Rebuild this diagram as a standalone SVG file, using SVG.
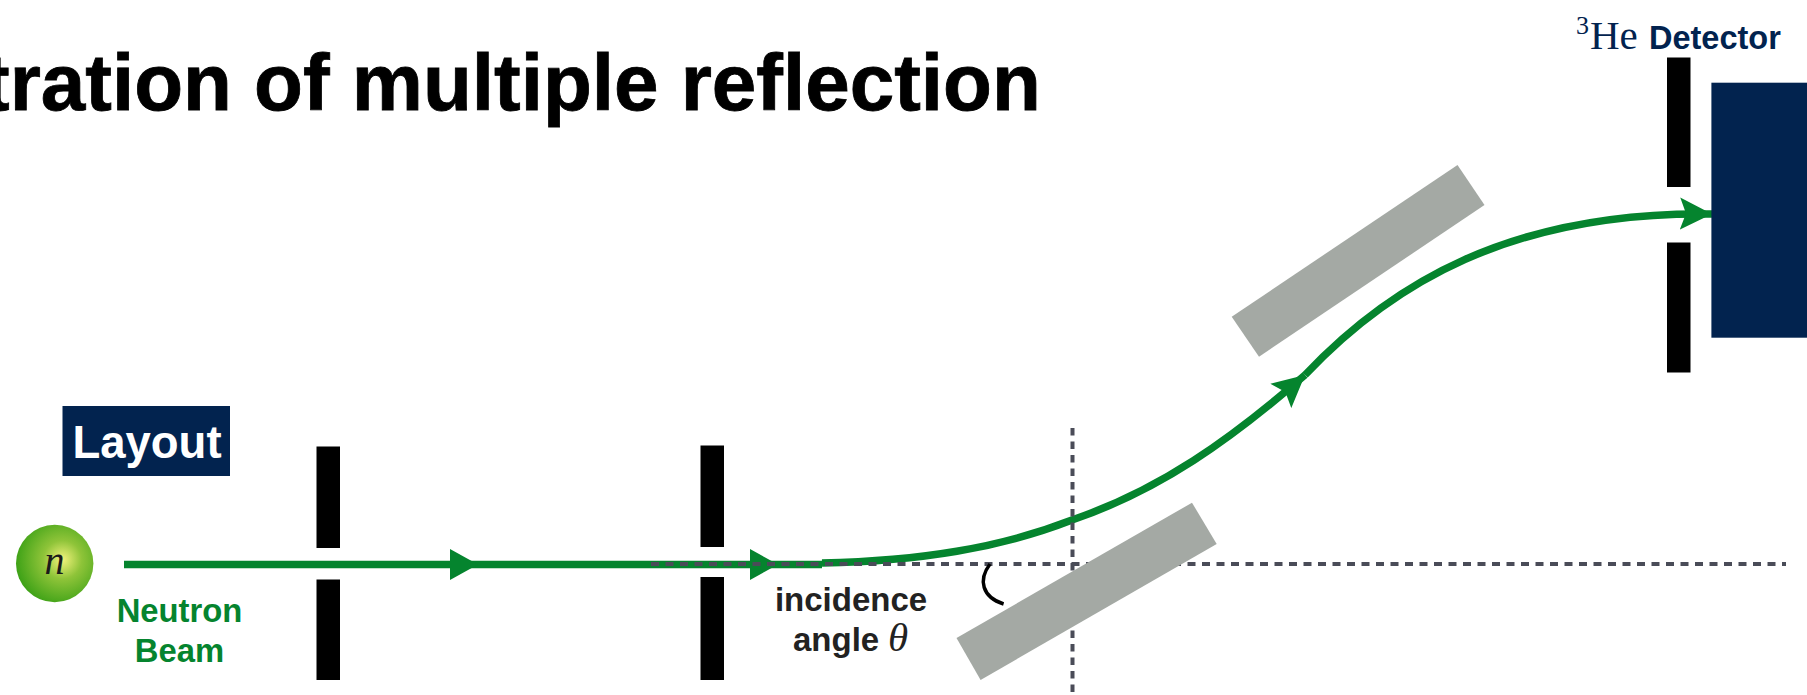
<svg xmlns="http://www.w3.org/2000/svg" width="1807" height="695" viewBox="0 0 1807 695">
<style>
.sans{font-family:"Liberation Sans",Arial,sans-serif;font-weight:700}
.serif{font-family:"Liberation Serif","Times New Roman",serif;font-weight:400}
.slit{fill:#000}
.mirror{fill:#a4a9a4}
.navy{fill:#02234f}
.beam{fill:none;stroke:#05842e;stroke-width:7.500}
.guide{fill:none;stroke:#4a4c58;stroke-width:4}
.green{fill:#05842e}
.dark{fill:#222}
</style>
<defs>
<radialGradient id="ball" cx="0.6" cy="0.45" r="0.62">
<stop offset="0" stop-color="#f2f27c"/>
<stop offset="0.4" stop-color="#8fc439"/>
<stop offset="1" stop-color="#3aa015"/>
</radialGradient>
<marker id="head" markerUnits="userSpaceOnUse" markerWidth="29" markerHeight="32" viewBox="0 0 29 32" refX="28" refY="16" orient="auto">
<path d="M0 0.500 L28 16 L0 31.500 Z" fill="#05842e"/>
</marker>
<marker id="barb" markerUnits="userSpaceOnUse" markerWidth="33" markerHeight="33" viewBox="0 0 33 33" refX="32" refY="16.500" orient="auto">
<path d="M0 0.500 L32 16.500 L0 32.500 L6 16.500 Z" fill="#05842e"/>
</marker>
</defs>
<rect width="1807" height="695" fill="#fff"/>
<text id="title" class="sans" x="-17" y="110" font-size="80" fill="#000" stroke="#000" stroke-width="0.800">tration of multiple reflection</text>
<g id="layout-label"><rect class="navy" x="62.500" y="406" width="167.500" height="70"/><text class="sans" x="147" y="458" font-size="45.500" fill="#fff" text-anchor="middle">Layout</text></g>
<g id="neutron"><circle cx="54.700" cy="563.500" r="38.700" fill="url(#ball)"/><text class="serif" x="54.500" y="574" font-size="40" font-style="italic" fill="#1a1a1a" text-anchor="middle">n</text></g>
<g id="connectors">
<path class="beam" d="M124 564.500H478" marker-end="url(#head)"/>
<path class="beam" d="M478 564.500H778" marker-end="url(#head)"/>
<path class="beam" d="M778 564.500H822"/>
<path class="beam" d="M822 563C920 561 1000 548 1072 520C1160 490 1230 440 1305 375" marker-end="url(#barb)"/>
<path class="beam" d="M1305 375C1390 285 1510 211 1712 214" marker-end="url(#barb)"/>
<path class="guide" stroke-dasharray="8 6.500" d="M651 564H1786"/>
<path class="guide" stroke-dasharray="7.500 6" d="M1072.500 428V695"/>
<path d="M990 564C978 580 982 597 1003.600 604" fill="none" stroke="#000" stroke-width="3.500"/>
</g>
<g id="slit-1"><rect class="slit" x="316.500" y="446.500" width="23.500" height="101.500"/><rect class="slit" x="316.500" y="579.500" width="23.500" height="100.500"/></g>
<g id="slit-2"><rect class="slit" x="700.500" y="445.500" width="23.500" height="101.500"/><rect class="slit" x="700.500" y="577" width="23.500" height="103"/></g>
<g id="slit-3"><rect class="slit" x="1667" y="57.500" width="23.500" height="129.500"/><rect class="slit" x="1667" y="242.500" width="23.500" height="130"/></g>
<g id="mirror-1"><polygon class="mirror" points="1192,502.700 1216.700,544 980.600,680 956.500,638"/></g>
<g id="mirror-2"><polygon class="mirror" points="1457.500,165 1484.500,205 1259,356.700 1231.700,316.700"/></g>
<g id="detector"><rect class="navy" x="1711.400" y="82.700" width="95.600" height="255"/>
<text class="serif" fill="#02234f" font-size="41"><tspan x="1576" y="33.500" font-size="26">3</tspan><tspan x="1590" y="48.500">He</tspan><tspan class="sans" x="1649" y="48.500" font-size="32.500">Detector</tspan></text></g>
<g id="neutron-label" class="sans green" font-size="32.800" text-anchor="middle"><text x="179.500" y="622">Neutron</text><text x="179.500" y="662">Beam</text></g>
<g id="angle-label" class="dark" font-size="33"><text class="sans" x="851" y="610.500" text-anchor="middle">incidence</text><text class="sans" x="793" y="650.500">angle</text><text class="serif" x="888" y="651" font-size="41" font-style="italic">θ</text></g>
</svg>
